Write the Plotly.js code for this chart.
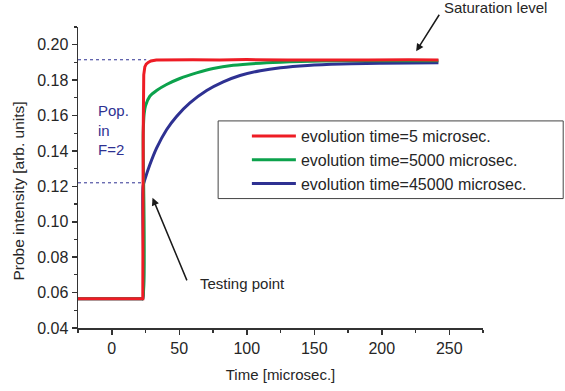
<!DOCTYPE html>
<html>
<head>
<meta charset="utf-8">
<script src="https://cdn.plot.ly/plotly-3.0.1.min.js"></script>
<style>html,body{margin:0;padding:0;background:#fff;}#chart{width:565px;height:391px;}</style>
</head>
<body>
<div id="chart"></div>
<script>
// Series data
var redT   = [-25, 23, 23.3, 23.7, 24.5, 25.5, 27, 29, 33, 40, 60, 80, 100, 130, 160, 190, 220, 242];
var redY   = [0.0565, 0.0565, 0.150, 0.183, 0.1875, 0.189, 0.190, 0.1908, 0.1914, 0.1915, 0.1915, 0.1914, 0.1916, 0.1914, 0.1916, 0.1914, 0.1915, 0.1914];

var greenT = [-25, 22, 23, 23.3, 24, 25, 28.2, 33.2, 40.6, 50.4, 62.8, 75.1, 90, 114.8, 140, 170, 200, 242];
var greenY = [0.0565, 0.0565, 0.0565, 0.150, 0.161, 0.1655, 0.1709, 0.1741, 0.1775, 0.1809, 0.1841, 0.1866, 0.1884, 0.1898, 0.1905, 0.1909, 0.191, 0.191];

var blueT  = [-25, 22, 23, 23.2, 25, 28.2, 33.2, 40.6, 48, 57.9, 70.3, 82.6, 95, 110, 125, 145, 170, 200, 242];
var blueY  = [0.0565, 0.0565, 0.0565, 0.120, 0.125, 0.1322, 0.1416, 0.152, 0.1595, 0.1671, 0.1741, 0.179, 0.1826, 0.1853, 0.1870, 0.1883, 0.1891, 0.1895, 0.1898];

var seriesNames = ["evolution time=5 microsec.", "evolution time=5000 microsec.", "evolution time=45000 microsec."];

// Reference levels
var saturationLevel = 0.1915;
var testingLevel = 0.122;
var satLineT = [-25, 25.5];
var testLineT = [-25, 23];

var xTicks = [0, 50, 100, 150, 200, 250];
var yTicks = [0.04, 0.06, 0.08, 0.10, 0.12, 0.14, 0.16, 0.18, 0.20];
var yTickText = ["0.04", "0.06", "0.08", "0.10", "0.12", "0.14", "0.16", "0.18", "0.20"];

var FONT = "Liberation Sans, Arial, sans-serif";
var TXT = "#262626";
var NAVY = "#2e3192";

var traces = [
  {x: satLineT, y: [saturationLevel, saturationLevel], mode: "lines", line: {color: NAVY, width: 1, dash: "dot"}, showlegend: false, hoverinfo: "skip"},
  {x: testLineT, y: [testingLevel, testingLevel], mode: "lines", line: {color: NAVY, width: 1, dash: "dot"}, showlegend: false, hoverinfo: "skip"},
  {x: blueT, y: blueY, mode: "lines", name: seriesNames[2], line: {color: NAVY, width: 3, shape: "spline", smoothing: 0.8}, legendrank: 3},
  {x: greenT, y: greenY, mode: "lines", name: seriesNames[1], line: {color: "#0ca24c", width: 3, shape: "spline", smoothing: 0.8}, legendrank: 2},
  {x: redT, y: redY, mode: "lines", name: seriesNames[0], line: {color: "#ee1c25", width: 3}, legendrank: 1}
];

var layout = {
  width: 565, height: 391,
  margin: {l: 78, r: 82, t: 27, b: 63},
  paper_bgcolor: "#fff", plot_bgcolor: "#fff",
  font: {family: FONT, size: 15, color: TXT},
  showlegend: true,
  legend: {x: 0.417, y: 0.694, xanchor: "left", yanchor: "top", bgcolor: "rgba(0,0,0,0)", borderwidth: 0,
           itemwidth: 44,
           font: {family: FONT, size: 16, color: TXT}, traceorder: "normal", tracegroupgap: 0},
  xaxis: {range: [-25, 275], showgrid: false, zeroline: false, showline: true, linecolor: "#333", linewidth: 1.5,
          ticks: "outside", ticklen: 5, tickwidth: 1.5, tickcolor: "#333", tickvals: xTicks,
          minor: {dtick: 25, ticks: "outside", ticklen: 3, tickwidth: 1.2, tickcolor: "#333"},
          tickfont: {family: FONT, size: 16, color: TXT},
          title: {text: "Time [microsec.]", font: {family: FONT, size: 15, color: TXT}, standoff: 14}},
  yaxis: {range: [0.04, 0.21], showgrid: false, zeroline: false, showline: true, linecolor: "#333", linewidth: 1.5,
          ticks: "outside", ticklen: 5, tickwidth: 1.5, tickcolor: "#333", tickvals: yTicks, ticktext: yTickText,
          minor: {dtick: 0.01, ticks: "outside", ticklen: 3, tickwidth: 1.2, tickcolor: "#333"},
          tickfont: {family: FONT, size: 16, color: TXT}},
  shapes: [
    {type: "rect", xref: "paper", yref: "paper", x0: 0.346, x1: 1.198, y0: 0.43, y1: 0.688,
     line: {color: "#444", width: 1}, fillcolor: "rgba(0,0,0,0)"}
  ],
  annotations: [
    {xref: "paper", yref: "paper", x: -0.148, y: 0.4535, text: "Probe intensity [arb. units]", textangle: -90,
     showarrow: false, xanchor: "center", yanchor: "middle", font: {family: FONT, size: 15.5, color: TXT}},
    {xref: "x", yref: "y", x: 225.5, y: 0.1963, ax: 24, ay: -38, text: "", showarrow: true,
     arrowhead: 2, arrowsize: 1, arrowwidth: 1.5, arrowcolor: "#1a1a1a"},
    {xref: "paper", yref: "paper", x: 1.032, y: 1.066, text: "Saturation level", showarrow: false,
     xanchor: "center", yanchor: "middle", font: {family: FONT, size: 15, color: TXT}},
    {xref: "x", yref: "y", x: 30.2, y: 0.1135, ax: 35, ay: 84, text: "", showarrow: true,
     arrowhead: 2, arrowsize: 1, arrowwidth: 1.5, arrowcolor: "#1a1a1a"},
    {xref: "x", yref: "y", x: 96.5, y: 0.0653, text: "Testing point", showarrow: false,
     xanchor: "center", yanchor: "middle", font: {family: FONT, size: 15, color: TXT}},
    {xref: "x", yref: "y", x: -12, y: 0.152, text: "Pop.<br>in<br>F=2", showarrow: false, align: "left",
     xanchor: "left", yanchor: "middle", font: {family: FONT, size: 15, color: NAVY}}
  ]
};

Plotly.newPlot("chart", traces, layout, {staticPlot: true, displayModeBar: false});
</script>
</body>
</html>
